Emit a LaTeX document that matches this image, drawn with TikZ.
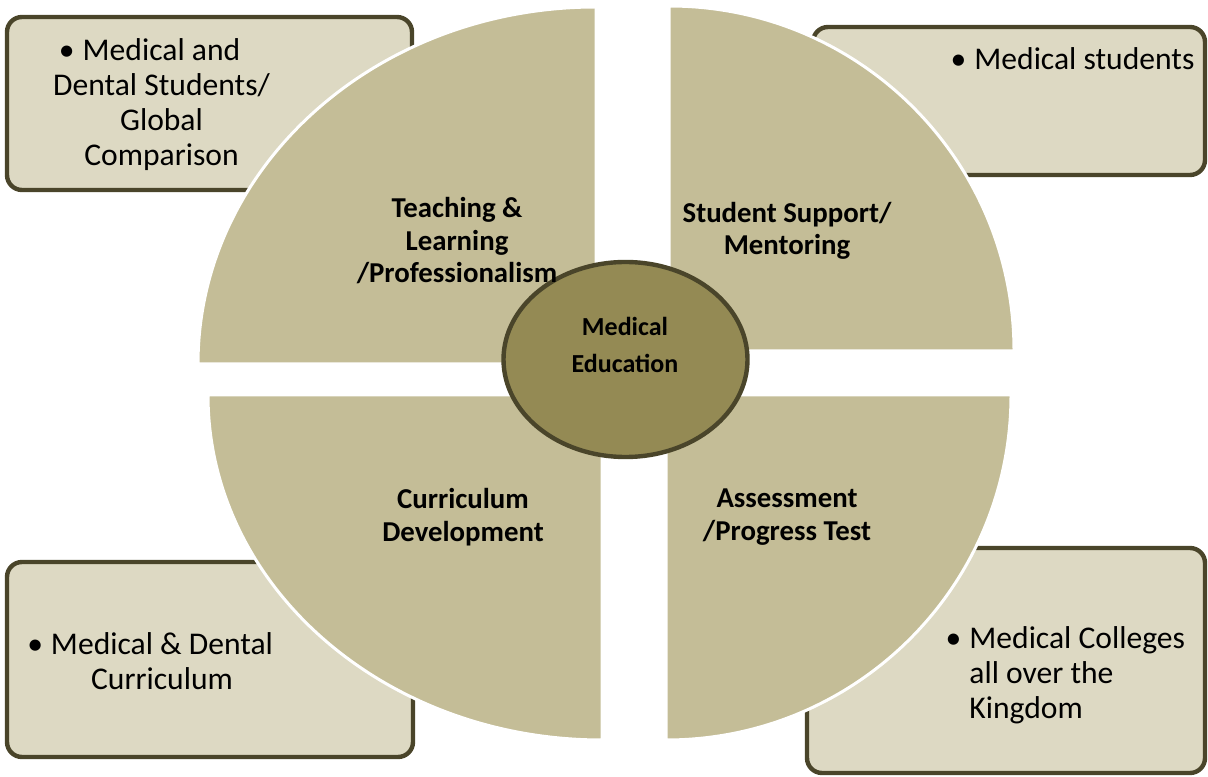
\documentclass[tikz,border=0pt]{standalone}
\usepackage{fontspec}
\setmainfont{Carlito}
\definecolor{tanbox}{HTML}{DDD9C3}
\definecolor{tanpie}{HTML}{C4BD97}
\definecolor{tanmid}{HTML}{948A54}
\definecolor{tanline}{HTML}{4A452A}
\newcommand{\bul}{\llap{\textbullet\hspace{4pt}}}

\begin{document}
\begin{tikzpicture}[x=0.5pt,y=0.5pt,
  box/.style={fill=tanbox,draw=tanline,line width=2.2pt,rounded corners=7.5pt},
  pie/.style={fill=tanpie,draw=white,line width=1.5pt},
  lbl/.style={align=center,inner sep=0pt,font=\fontsize{14.4}{16.25}\selectfont\bfseries},
  txt/.style={inner sep=0pt,font=\fontsize{15.8}{17.5}\selectfont}]
\useasboundingbox (0,0) rectangle (1208,776);
% outer boxes
\draw[box](7,586)rectangle(412,759);
\draw[box](813,601)rectangle(1205,749);
\draw[box](7,19)rectangle(413,214);
\draw[box](807,3)rectangle(1205,228);
% four quarters
\draw[pie](596,412)--(198,412)arc[start angle=180,end angle=90,x radius=398,y radius=357]--cycle;
\draw[pie](669,425)--(1014,425)arc[start angle=0,end angle=90,radius=345]--cycle;
\draw[pie](602,381)--(208,381)arc[start angle=180,end angle=270,x radius=394,y radius=345]--cycle;
\draw[pie](666,381)--(1011,381)arc[start angle=0,end angle=-90,radius=345]--cycle;
% centre
\draw[fill=tanmid,draw=tanline,line width=2.2pt](625.5,416.5)ellipse(122 and 97.5);
\node[lbl,font=\fontsize{13}{18.5}\selectfont\bfseries] (medu) at (625,431) {Medical\\Education};
% quarter labels
\node[lbl] (teach) at (457,535) {Teaching \&\\Learning\\/Professionalism};
\node[lbl] (supp) at (787,545) {Student Support/\\Mentoring};
\node[lbl] (curr) at (463,259) {Curriculum\\Development};
\node[lbl] (asse) at (787,259) {Assessment\\/Progress Test};
% box texts
\node[txt,align=center] (glob) at (161.5,671) {\bul Medical and\\Dental Students/\\Global\\Comparison};
\node[txt,anchor=west] (stud) at (974,717) {\bul Medical students};
\node[txt,align=center] (dent) at (162,115) {\bul Medical \& Dental\\Curriculum};
\node[txt,align=left,anchor=west] (coll) at (969,101) {\bul Medical Colleges\\all over the\\Kingdom};
\end{tikzpicture}
\end{document}
